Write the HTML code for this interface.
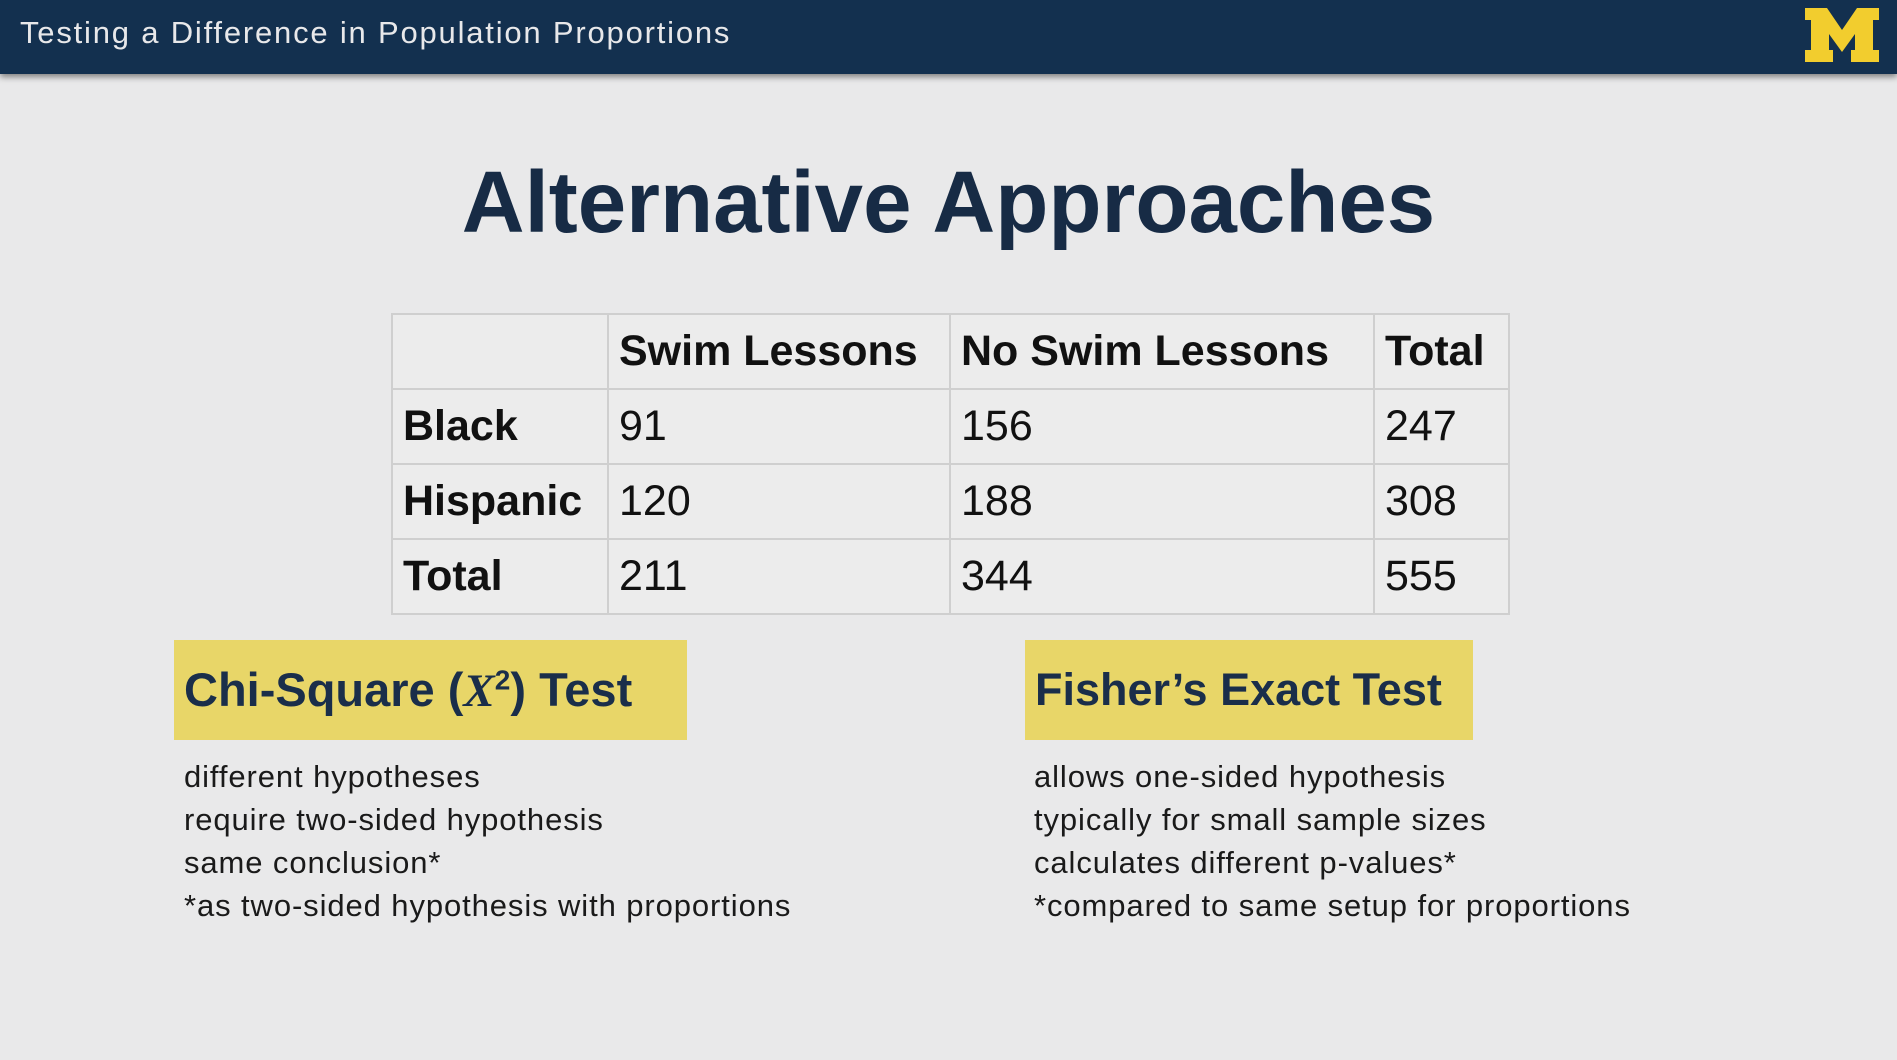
<!DOCTYPE html>
<html><head><meta charset="utf-8"><style>
body{margin:0;width:1897px;height:1060px;background:#e9e9ea;position:relative;overflow:hidden;font-family:"Liberation Sans",sans-serif}
#hdr{position:absolute;left:0;top:0;width:1897px;height:74px;background:#13304f;box-shadow:0 3px 6px rgba(0,0,0,.45)}
#hdr span{position:absolute;left:20px;top:15px;color:#e8e8ea;font-size:31px;letter-spacing:1.8px}
h1{position:absolute;left:0;width:1897px;top:153px;margin:0;text-align:center;font-size:87px;color:#172b45;font-weight:bold}
table{position:absolute;left:391px;top:313px;border-collapse:collapse;background:#ececec}
td{border:2px solid #cfcfcf;font-size:43px;color:#111;padding:0 10px;height:73px}
td.b{font-weight:bold}
.box{position:absolute;top:640px;height:100px;background:#e8d668;font-weight:bold;color:#1a2e4a;line-height:100px;padding-left:10px;box-sizing:border-box}
.list{position:absolute;top:755px;font-size:31px;color:#1a1a1a;line-height:43px;letter-spacing:0.9px}
</style></head><body>
<div id="hdr"><span>Testing a Difference in Population Proportions</span>
<svg style="position:absolute;left:1805px;top:8px" width="74" height="54" viewBox="0 0 74 54"><path d="M0 0H22L37 22L52 0H74V12H68V42H74V54H46V42H50V26L37 44L24 26V42H28V54H0V42H6V12H0Z" fill="#f2cd2e"/></svg></div>
<h1>Alternative Approaches</h1>
<table>
<tr><td style="width:194px"></td><td class="b" style="width:320px">Swim Lessons</td><td class="b" style="width:402px">No Swim Lessons</td><td class="b" style="width:113px">Total</td></tr>
<tr><td class="b">Black</td><td>91</td><td>156</td><td>247</td></tr>
<tr><td class="b">Hispanic</td><td>120</td><td>188</td><td>308</td></tr>
<tr><td class="b">Total</td><td>211</td><td>344</td><td>555</td></tr>
</table>
<div class="box" style="left:174px;width:513px;font-size:47px">Chi-Square (<i style="font-family:'Liberation Serif',serif">X</i><sup style="font-size:28px;line-height:0">2</sup>) Test</div>
<div class="box" style="left:1025px;width:448px;font-size:45px">Fisher’s Exact Test</div>
<div class="list" style="left:184px">different hypotheses<br>require two-sided hypothesis<br>same conclusion*<br>*as two-sided hypothesis with proportions</div>
<div class="list" style="left:1034px">allows one-sided hypothesis<br>typically for small sample sizes<br>calculates different p-values*<br>*compared to same setup for proportions</div>
</body></html>
